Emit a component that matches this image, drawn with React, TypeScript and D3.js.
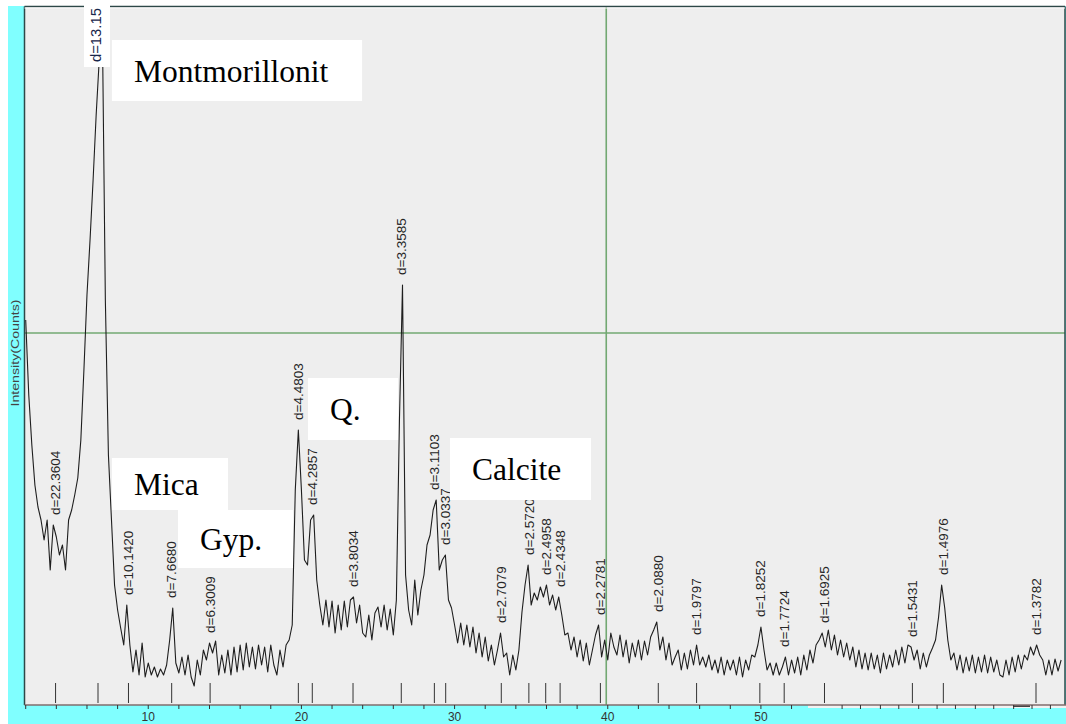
import React from "react";
import * as d3 from "d3";

// ---------- data ----------
// XRD scan: 2-theta start / step (degrees) and intensities
const scanStart = 2.0;
const scanStep = 0.2;
const intensity = [
  385, 310, 260, 220, 198, // 2
  185, 165, 185, 135, 180, // 3
  168, 150, 160, 135, 185, // 4
  195, 210, 227, 265, 335, // 5
  410, 465, 525, 590, 645, // 6
  685, 405, 250, 185, 120, // 7
  95, 77, 60, 100, 60, // 8
  33, 55, 30, 62, 28, // 9
  42, 30, 38, 28, 36, // 10
  30, 40, 65, 97, 42, // 11
  32, 48, 30, 50, 28, // 12
  19, 45, 30, 55, 45, // 13
  62, 52, 64, 30, 50, // 14
  32, 55, 30, 58, 33, // 15
  60, 35, 62, 38, 58, // 16
  36, 60, 40, 58, 33, // 17
  60, 40, 30, 55, 38, // 18
  60, 65, 80, 215, 275, // 19
  215, 145, 140, 185, 190, // 20
  125, 100, 80, 105, 78, // 21
  104, 72, 100, 75, 104, // 22
  78, 105, 108, 82, 100, // 23
  72, 68, 90, 65, 92, // 24
  98, 78, 100, 75, 96, // 25
  70, 105, 285, 420, 130, // 26
  95, 80, 125, 90, 115, // 27
  130, 160, 170, 195, 205, // 28
  135, 145, 150, 105, 97, // 29
  80, 62, 82, 60, 80, // 30
  58, 78, 52, 72, 48, // 31
  68, 44, 60, 40, 55, // 32
  72, 48, 52, 30, 50, // 33
  35, 55, 93, 120, 140, // 34
  100, 112, 105, 118, 108, // 35
  120, 100, 110, 95, 108, // 36
  90, 70, 72, 55, 68, // 37
  48, 65, 44, 62, 40, // 38
  55, 70, 80, 48, 65, // 39
  45, 72, 58, 50, 70, // 40
  48, 65, 42, 62, 48, // 41
  65, 45, 64, 50, 68, // 42
  75, 83, 55, 68, 45, // 43
  62, 40, 48, 55, 35, // 44
  52, 36, 55, 40, 60, // 45
  40, 48, 38, 50, 35, // 46
  45, 32, 48, 30, 45, // 47
  35, 45, 30, 48, 28, // 48
  45, 35, 50, 48, 60, // 49
  78, 55, 35, 42, 30, // 50
  42, 30, 38, 48, 30, // 51
  45, 32, 48, 30, 50, // 52
  35, 55, 42, 60, 65, // 53
  72, 58, 75, 55, 70, // 54
  50, 65, 48, 62, 45, // 55
  58, 38, 55, 36, 52, // 56
  35, 52, 36, 50, 32, // 57
  52, 36, 50, 38, 55, // 58
  40, 58, 42, 60, 58, // 59
  45, 55, 36, 52, 38, // 60
  50, 57, 65, 88, 120, // 61
  97, 65, 45, 52, 35, // 62
  50, 32, 48, 34, 50, // 63
  32, 48, 33, 50, 32, // 64
  48, 33, 45, 30, 28, // 65
  45, 30, 48, 33, 50, // 66
  36, 50, 45, 58, 50, // 67
  60, 50, 45, 30, 45, // 68
  30, 46, 34, 45, // 69
];

// identified peaks (2-theta) and their d-spacing labels
const peakTheta = [
  3.95, 6.72, 8.71, 11.53, 14.04, 19.8, 20.71, 23.37, 26.52, 28.68, 29.42,
  33.05, 34.85, 35.95, 36.89, 39.52, 43.3, 45.8, 49.93, 51.52, 54.15, 59.89,
  61.91, 67.96,
];
const peakLabels = [
  "d=22.3604", "d=13.15", "d=10.1420", "d=7.6680", "d=6.3009", "d=4.4803",
  "d=4.2857", "d=3.8034", "d=3.3585", "d=3.1103", "d=3.0337", "d=2.7079",
  "d=2.5720", "d=2.4958", "d=2.4348", "d=2.2781", "d=2.0880", "d=1.9797",
  "d=1.8252", "d=1.7724", "d=1.6925", "d=1.5431", "d=1.4976", "d=1.3782",
];
const selectedPeak = 1;

const xTickValues = [10, 20, 30, 40, 50];
const xMinorTicks = [
  2, 4, 6, 8, 10, 12, 14, 16, 18, 20, 22, 24, 26, 28, 30, 32, 34, 36, 38, 40,
  42, 44, 46, 48, 50, 52,
];
const xMinorTicks2 = [
  55.3, 56.5, 57.8, 59.0, 60.3, 61.5, 62.7, 64.0, 65.2, 66.5, 67.7, 68.9,
];
const gridTheta = [40];
const gridIntensity = [372];

// phase annotations: label, 2-theta span, intensity span
const annotationLabels = ["Montmorillonit", "Mica", "Gyp.", "Q.", "Calcite"];
const annotationTheta = [
  [7.63, 23.96],
  [7.63, 15.21],
  [11.94, 19.45],
  [20.43, 26.31],
  [29.7, 38.91],
];
const annotationIntensity = [
  [665, 604],
  [247, 195],
  [195, 137],
  [327, 265],
  [267, 205],
];

// ---------- chart ----------
const W = 1066;
const H = 724;
const plotLeft = 24.5;
const plotRight = 1065;
const plotTop = 6.5;
const axisY = 705;

export default function App() {
  const x = d3.scaleLinear().domain([0, 70]).range([-4.93, 1067.26]);
  const y = d3.scaleLinear().domain([0, 698]).range([axisY, 7]);

  const pts: [number, number][] = intensity.map((v, i) => [
    scanStart + i * scanStep,
    v,
  ]);
  const line = d3
    .line<[number, number]>()
    .x((d) => x(d[0]))
    .y((d) => y(d[1]));

  const peakMax = (t: number) =>
    d3.max(pts.filter((p) => Math.abs(p[0] - t) <= 0.25), (p) => p[1]) || 0;

  const sans = "'Liberation Sans', Arial, sans-serif";
  const serif = "'Liberation Serif', 'Times New Roman', serif";

  return (
    <svg
      width={W}
      height={H}
      style={{ position: "absolute", left: 0, top: 0, background: "#fff" }}
    >
      <defs>
        <clipPath id="plotClip">
          <rect
            x={plotLeft + 0.5}
            y={plotTop + 0.5}
            width={plotRight - plotLeft - 1}
            height={axisY - plotTop - 0.5}
          />
        </clipPath>
      </defs>
      <rect x={0} y={0} width={W} height={H} fill="#ffffff" />
      {/* cyan frame */}
      <rect x={8} y={6} width={W - 8} height={H - 6} fill="#80ffff" />
      {/* plot background */}
      <rect
        x={plotLeft}
        y={plotTop}
        width={plotRight - plotLeft}
        height={axisY - plotTop}
        fill="#eeeeee"
      />
      {/* light strip bottom right */}
      <rect x={808} y={axisY} width={W - 808} height={3} fill="#f2f2f2" />
      <rect x={1013} y={axisY} width={17} height={2} fill="#444" />

      {/* grid lines */}
      {gridTheta.map((g) => (
        <line
          key={"gx" + g}
          x1={x(g) - 1.5}
          x2={x(g) - 1.5}
          y1={plotTop}
          y2={axisY}
          stroke="#72a872"
          strokeWidth={1.6}
        />
      ))}
      {gridIntensity.map((g) => (
        <line
          key={"gy" + g}
          x1={plotLeft}
          x2={plotRight}
          y1={y(g)}
          y2={y(g)}
          stroke="#72a872"
          strokeWidth={1.6}
        />
      ))}

      {/* pattern */}
      <g clipPath="url(#plotClip)">
        <path
          d={line(pts) || ""}
          fill="none"
          stroke="#1e1e1e"
          strokeWidth={1.1}
          strokeLinejoin="round"
        />
      </g>

      {/* peak marker lines */}
      {peakTheta.map((t, i) => (
        <line
          key={"pm" + i}
          x1={x(t)}
          x2={x(t)}
          y1={axisY - 22}
          y2={axisY - 2}
          stroke="#333"
          strokeWidth={1}
        />
      ))}

      {/* d-spacing labels */}
      {peakTheta.map((t, i) => {
        if (i === selectedPeak) return null;
        const ay = y(peakMax(t)) - 10;
        return (
          <text
            key={"pl" + i}
            transform={`translate(${x(t) + 4.8},${ay}) rotate(-90)`}
            fontFamily={sans}
            fontSize={13.5}
            fill="#262626"
          >
            {peakLabels[i]}
          </text>
        );
      })}

      {/* annotation boxes */}
      {annotationLabels.map((lab, i) => {
        const x0 = x(annotationTheta[i][0]);
        const x1 = x(annotationTheta[i][1]);
        const y0 = y(annotationIntensity[i][0]);
        const y1 = y(annotationIntensity[i][1]);
        return (
          <g key={"an" + i}>
            <rect x={x0} y={y0} width={x1 - x0} height={y1 - y0} fill="#fff" />
            <text
              x={x0 + 22}
              y={(y0 + y1) / 2 + 11}
              fontFamily={serif}
              fontSize={31.5}
              fill="#000"
            >
              {lab}
            </text>
          </g>
        );
      })}

      {/* frame borders */}
      <line x1={plotLeft} x2={plotLeft} y1={plotTop} y2={axisY} stroke="#2d4848" strokeWidth={1.5} />
      <line x1={plotLeft} x2={plotRight} y1={plotTop} y2={plotTop} stroke="#2d4848" strokeWidth={1.5} />
      <line x1={plotRight} x2={plotRight} y1={plotTop} y2={axisY} stroke="#2d4848" strokeWidth={1.5} />
      <line x1={plotLeft} x2={plotRight} y1={plotTop + 1.5} y2={plotTop + 1.5} stroke="#fafafa" strokeWidth={1} />

      {/* selected label with white box (over the top border) */}
      <g>
        <rect
          x={x(peakTheta[selectedPeak]) - 14}
          y={0}
          width={26}
          height={67}
          fill="#ffffff"
        />
        <text
          transform={`translate(${x(peakTheta[selectedPeak]) + 3.2},62) rotate(-90)`}
          fontFamily={sans}
          fontSize={14.8}
          fill="#17264a"
        >
          {peakLabels[selectedPeak]}
        </text>
      </g>

      {/* x axis */}
      <line x1={plotLeft} x2={W} y1={axisY} y2={axisY} stroke="#806c6c" strokeWidth={1.5} />
      {xMinorTicks.concat(xMinorTicks2).map((t) => (
        <line
          key={"mt" + t}
          x1={x(t)}
          x2={x(t)}
          y1={axisY}
          y2={axisY + 4}
          stroke="#333"
          strokeWidth={1}
        />
      ))}
      {xTickValues.map((t) => (
        <text
          key={"tl" + t}
          x={x(t)}
          y={720.5}
          textAnchor="middle"
          fontFamily={sans}
          fontSize={12}
          fill="#333"
        >
          {t}
        </text>
      ))}

      {/* y axis title */}
      <text
        transform="translate(19,353) rotate(-90)"
        textAnchor="middle"
        fontFamily={sans}
        fontSize={11}
        fill="#444"
        textLength={107}
        lengthAdjust="spacingAndGlyphs"
      >
        Intensity(Counts)
      </text>
    </svg>
  );
}
